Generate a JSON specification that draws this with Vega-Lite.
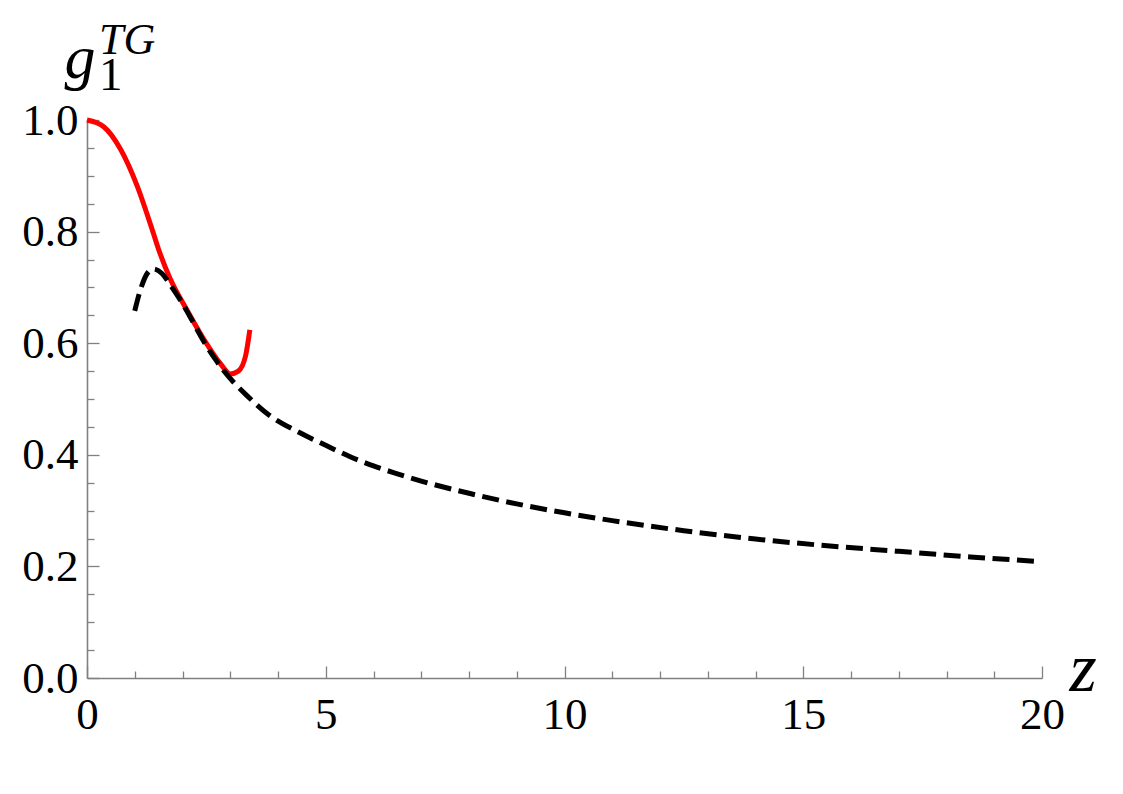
{
  "$schema": "https://vega.github.io/schema/vega-lite/v6.json",
  "autosize": {"type": "none"},
  "width": 955,
  "height": 558,
  "padding": {"left": 87, "top": 120, "right": 81, "bottom": 116},
  "background": "white",
  "config": {
    "view": {"stroke": null},
    "axis": {
      "grid": false,
      "domainColor": "#808080",
      "domainWidth": 1.6,
      "tickColor": "#808080",
      "tickWidth": 1.3,
      "labelFont": "Liberation Serif",
      "labelFontSize": 45,
      "labelColor": "black",
      "labelFlush": false,
      "labelOverlap": false,
      "labelBound": false,
      "titleFont": "Liberation Serif",
      "titleFontStyle": "italic",
      "titleFontWeight": "normal",
      "titleColor": "black"
    }
  },
  "title": {
    "text": "TG",
    "subtitle": "1",
    "anchor": "start",
    "frame": "group",
    "font": "Liberation Serif",
    "fontStyle": "italic",
    "fontWeight": "normal",
    "fontSize": 44,
    "color": "black",
    "subtitleFont": "Liberation Serif",
    "subtitleFontSize": 47,
    "subtitleColor": "black",
    "subtitlePadding": -10,
    "dx": 12,
    "offset": -72
  },
  "datasets": {
    "red": [
      {"z": 0.0, "g": 1.0},
      {"z": 0.35, "g": 0.988},
      {"z": 0.7, "g": 0.948},
      {"z": 1.05, "g": 0.882},
      {"z": 1.39, "g": 0.797},
      {"z": 1.5, "g": 0.768},
      {"z": 1.74, "g": 0.716},
      {"z": 2.09, "g": 0.66},
      {"z": 2.44, "g": 0.608},
      {"z": 2.79, "g": 0.564},
      {"z": 3.0, "g": 0.545},
      {"z": 3.17, "g": 0.55},
      {"z": 3.32, "g": 0.577},
      {"z": 3.41, "g": 0.624}
    ],
    "black": [
      {"z": 1.0, "g": 0.658},
      {"z": 1.12, "g": 0.696},
      {"z": 1.26, "g": 0.725},
      {"z": 1.39, "g": 0.733},
      {"z": 1.57, "g": 0.725},
      {"z": 1.74, "g": 0.705},
      {"z": 1.95, "g": 0.678},
      {"z": 2.2, "g": 0.641},
      {"z": 2.44, "g": 0.604},
      {"z": 2.69, "g": 0.571},
      {"z": 2.86, "g": 0.551},
      {"z": 3.07, "g": 0.53},
      {"z": 3.35, "g": 0.506},
      {"z": 3.77, "g": 0.474},
      {"z": 4.47, "g": 0.439},
      {"z": 5.0, "g": 0.417},
      {"z": 5.5, "g": 0.397},
      {"z": 6.0, "g": 0.38},
      {"z": 6.5, "g": 0.366},
      {"z": 7.0, "g": 0.353},
      {"z": 8.0, "g": 0.331},
      {"z": 9.0, "g": 0.312},
      {"z": 10.0, "g": 0.296},
      {"z": 11.0, "g": 0.282},
      {"z": 12.5, "g": 0.264},
      {"z": 14.0, "g": 0.249},
      {"z": 15.5, "g": 0.237},
      {"z": 17.0, "g": 0.227},
      {"z": 18.5, "g": 0.217},
      {"z": 19.9, "g": 0.209}
    ]
  },
  "encoding": {
    "x": {
      "field": "z",
      "type": "quantitative",
      "scale": {"domain": [0, 20], "nice": false, "zero": false},
      "axis": {
        "values": [0,1,2,3,4,5,6,7,8,9,10,11,12,13,14,15,16,17,18,19,20],
        "tickSize": {"condition": {"test": "datum.value % 5 === 0", "value": -12}, "value": -7},
        "labelExpr": "datum.value % 5 === 0 ? datum.label : ''",
        "labelPadding": 26,
        "labelBaseline": "top",
        "title": "z",
        "titleFontSize": 70,
        "titleAngle": 0,
        "titleAlign": "left",
        "titleBaseline": "alphabetic",
        "titleX": 982,
        "titleY": 12
      }
    },
    "y": {
      "field": "g",
      "type": "quantitative",
      "scale": {"domain": [0, 1], "nice": false, "zero": false},
      "axis": {
        "values": [0,0.05,0.1,0.15,0.2,0.25,0.3,0.35,0.4,0.45,0.5,0.55,0.6,0.65,0.7,0.75,0.8,0.85,0.9,0.95,1.0],
        "tickSize": {"condition": {"test": "abs(datum.value*5 - round(datum.value*5)) < 0.001", "value": -12}, "value": -7},
        "labelExpr": "abs(datum.value*5 - round(datum.value*5)) < 0.001 ? format(datum.value, '.1f') : ''",
        "labelPadding": 21,
        "title": "g",
        "titleFontSize": 62,
        "titleAngle": 0,
        "titleAlign": "left",
        "titleBaseline": "alphabetic",
        "titleX": -23,
        "titleY": -43
      }
    }
  },
  "layer": [
    {
      "data": {"name": "red"},
      "mark": {"type": "line", "color": "#ff0000", "strokeWidth": 5, "interpolate": "monotone", "strokeCap": "butt"}
    },
    {
      "data": {"name": "black"},
      "mark": {"type": "line", "color": "#000000", "strokeWidth": 5, "interpolate": "monotone", "strokeDash": [17, 7.5], "strokeCap": "butt"}
    }
  ]
}
